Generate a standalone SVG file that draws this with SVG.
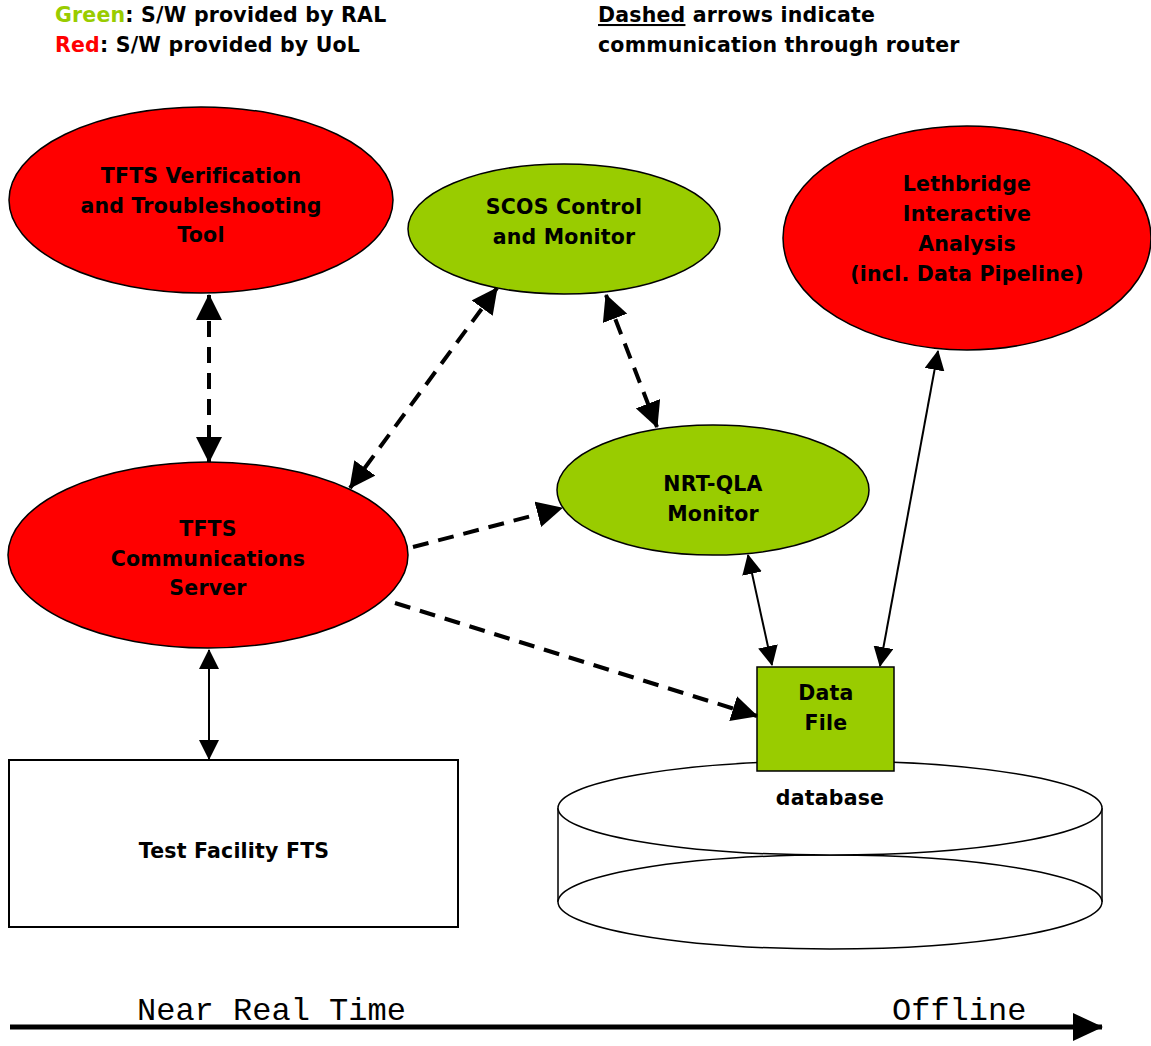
<svg xmlns="http://www.w3.org/2000/svg" width="1151" height="1046" viewBox="0 0 1151 1046">
<style>
.t{font-family:"DejaVu Sans","Liberation Sans",sans-serif;font-weight:bold;font-size:20.5px;letter-spacing:0.2px;fill:#000}
.c{text-anchor:middle}
.red{fill:#ff0000;stroke:#000;stroke-width:1.5}
.grn{fill:#99cc00;stroke:#000;stroke-width:1.5}
.box{fill:#fff;stroke:#000;stroke-width:2}
.dash{fill:none;stroke:#000;stroke-width:4;stroke-dasharray:16,10}
.sol{fill:none;stroke:#000;stroke-width:2}
.mono{font-family:"Liberation Mono","Courier New",monospace;font-size:32px;fill:#000}
</style>
<defs>
<marker id="ah" markerUnits="userSpaceOnUse" markerWidth="26" markerHeight="26" refX="25" refY="13" orient="auto-start-reverse" viewBox="0 0 26 26">
<path d="M0,0 L26,13 L0,26 z" fill="#000"/>
</marker>
<marker id="as" markerUnits="userSpaceOnUse" markerWidth="20" markerHeight="20" refX="19" refY="10" orient="auto-start-reverse" viewBox="0 0 20 20">
<path d="M0,0 L20,10 L0,20 z" fill="#000"/>
</marker>
<marker id="ab" markerUnits="userSpaceOnUse" markerWidth="30" markerHeight="30" refX="29" refY="15" orient="auto" viewBox="0 0 30 30">
<path d="M0,1 L30,15 L0,29 z" fill="#000"/>
</marker>
</defs>

<g id="legend">
<text class="t" x="55" y="22"><tspan fill="#99cc00">Green</tspan>: S/W provided by RAL</text>
<text class="t" x="55" y="52"><tspan fill="#ff0000">Red</tspan>: S/W provided by UoL</text>
<text class="t" x="598" y="22"><tspan text-decoration="underline">Dashed</tspan> arrows indicate</text>
<text class="t" x="598" y="52">communication through router</text>
</g>

<g id="database">
<path d="M558,808 L558,902 M1102,808 L1102,902" stroke="#000" stroke-width="1.5" fill="none"/>
<ellipse cx="830" cy="902" rx="272" ry="47" fill="#fff" stroke="#000" stroke-width="1.5"/>
<ellipse cx="830" cy="808" rx="272" ry="47" fill="#fff" stroke="#000" stroke-width="1.5"/>
<text class="t c" x="830" y="805">database</text>
</g>

<g id="tfts-verification">
<ellipse class="red" cx="201" cy="200" rx="192" ry="93"/>
<text class="t c" x="201" y="183">TFTS Verification</text>
<text class="t c" x="201" y="213">and Troubleshooting</text>
<text class="t c" x="201" y="242">Tool</text>
</g>

<g id="scos">
<ellipse class="grn" cx="564" cy="229" rx="156" ry="65"/>
<text class="t c" x="564" y="214">SCOS Control</text>
<text class="t c" x="564" y="244">and Monitor</text>
</g>

<g id="lethbridge">
<ellipse class="red" cx="967" cy="238" rx="184" ry="112"/>
<text class="t c" x="967" y="191">Lethbridge</text>
<text class="t c" x="967" y="221">Interactive</text>
<text class="t c" x="967" y="251">Analysis</text>
<text class="t c" x="967" y="281">(incl. Data Pipeline)</text>
</g>

<g id="tfts-comm">
<ellipse class="red" cx="208" cy="555" rx="200" ry="93"/>
<text class="t c" x="208" y="536">TFTS</text>
<text class="t c" x="208" y="566">Communications</text>
<text class="t c" x="208" y="595">Server</text>
</g>

<g id="nrt-qla">
<ellipse class="grn" cx="713" cy="490" rx="156" ry="65"/>
<text class="t c" x="713" y="491">NRT-QLA</text>
<text class="t c" x="713" y="521">Monitor</text>
</g>

<g id="data-file">
<rect class="grn" x="757" y="667" width="137" height="104" stroke-width="2"/>
<text class="t c" x="826" y="700">Data</text>
<text class="t c" x="826" y="730">File</text>
</g>

<g id="test-facility">
<rect class="box" x="9" y="760" width="449" height="167"/>
<text class="t c" x="234" y="858">Test Facility FTS</text>
</g>

<g id="connectors">
<line class="dash" x1="209" y1="295" x2="209" y2="462" marker-start="url(#ah)" marker-end="url(#ah)"/>
<line class="dash" x1="497" y1="288" x2="350" y2="488" marker-start="url(#ah)" marker-end="url(#ah)"/>
<line class="dash" x1="606" y1="295" x2="657" y2="427" marker-start="url(#ah)" marker-end="url(#ah)"/>
<line class="dash" x1="413" y1="547" x2="562" y2="508" marker-end="url(#ah)"/>
<line class="dash" x1="395" y1="603" x2="757" y2="716" marker-end="url(#ah)"/>
<line class="sol" x1="748" y1="555" x2="772" y2="665" marker-start="url(#as)" marker-end="url(#as)"/>
<line class="sol" x1="938" y1="351" x2="880" y2="666" marker-start="url(#as)" marker-end="url(#as)"/>
<line class="sol" x1="209" y1="650" x2="209" y2="759" marker-start="url(#as)" marker-end="url(#as)"/>
</g>

<g id="timeline">
<line x1="10" y1="1027" x2="1102" y2="1027" stroke="#000" stroke-width="5" marker-end="url(#ab)"/>
<text class="mono" x="137" y="1020">Near Real Time</text>
<text class="mono" x="892" y="1020">Offline</text>
</g>
</svg>
